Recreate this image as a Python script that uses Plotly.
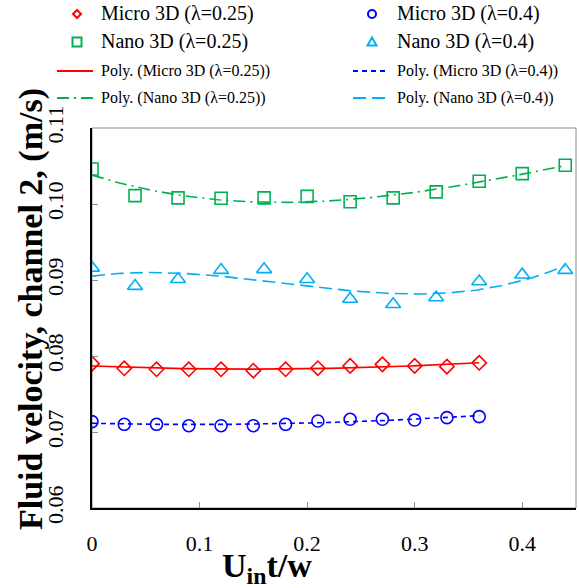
import numpy as np
import plotly.graph_objects as go

# ---- data ----
x_micro = [0, 0.03, 0.06, 0.09, 0.12, 0.15, 0.18, 0.21, 0.24, 0.27, 0.30, 0.33, 0.36]
micro_025 = [0.0790, 0.07838, 0.07825, 0.07825, 0.07825, 0.07807, 0.07825,
             0.0784, 0.0787, 0.0789, 0.0787, 0.0786, 0.0791]
micro_04 = [0.07136, 0.07101, 0.07101, 0.07083, 0.07083, 0.07083, 0.07101,
            0.07145, 0.07167, 0.07167, 0.07158, 0.07189, 0.07202]

x_nano = [0, 0.04, 0.08, 0.12, 0.16, 0.20, 0.24, 0.28, 0.32, 0.36, 0.40, 0.44]
nano_025 = [0.1046, 0.1011, 0.1008, 0.10075, 0.1008, 0.1010, 0.1003, 0.1008,
            0.1016, 0.1030, 0.1040, 0.1051]
nano_04 = [0.0916, 0.0892, 0.0901, 0.0913, 0.0914, 0.0901, 0.0875, 0.0868,
           0.0877, 0.0898, 0.0907, 0.0913]

names = ["Micro 3D (\u03bb=0.25)", "Nano 3D (\u03bb=0.25)",
         "Micro 3D (\u03bb=0.4)", "Nano 3D (\u03bb=0.4)"]
poly_names = ["Poly. (" + n + ")" for n in names]

x_ticks = [0, 0.1, 0.2, 0.3, 0.4]
x_ticktext = ["0", "0.1", "0.2", "0.3", "0.4"]
y_ticks = [0.06, 0.07, 0.08, 0.09, 0.10, 0.11]
y_ticktext = ["0.06", "0.07", "0.08", "0.09", "0.10", "0.11"]

RED, GREEN, BLUE, LBLUE = "#FF0000", "#00B050", "#0000FF", "#00B0F0"

# ---- geometry ----
W, H = 579, 588
L, R, T, B = 92, 3, 128, 80
PW, PH = W - L - R, H - T - B


def px(x):
    return (x - L) / PW


def py(y):
    return (H - B - y) / PH


FONT = "Liberation Serif"

fig = go.Figure()


def add_trend(xs, ys, deg, color, dash):
    c = np.polyfit(xs, ys, deg)
    xf = np.linspace(min(xs), max(xs), 200)
    fig.add_trace(go.Scatter(x=xf, y=np.polyval(c, xf), mode="lines",
                             line=dict(color=color, width=1.6, dash=dash),
                             showlegend=False, hoverinfo="skip"))


add_trend(x_micro, micro_025, 2, RED, "solid")
add_trend(x_micro, micro_04, 2, BLUE, "5px,4px")
add_trend(x_nano, nano_025, 3, GREEN, "12px,5px,2px,5px")
add_trend(x_nano, nano_04, 3, LBLUE, "13px,6px")

fig.add_trace(go.Scatter(x=x_micro, y=micro_025, mode="markers", showlegend=False,
                         marker=dict(symbol="diamond-open", size=11, color=RED,
                                     line=dict(width=1.6, color=RED))))
fig.add_trace(go.Scatter(x=x_nano, y=nano_025, mode="markers", showlegend=False,
                         marker=dict(symbol="square-open", size=12, color=GREEN,
                                     line=dict(width=1.6, color=GREEN))))
fig.add_trace(go.Scatter(x=x_micro, y=micro_04, mode="markers", showlegend=False,
                         marker=dict(symbol="circle-open", size=12, color=BLUE,
                                     line=dict(width=1.6, color=BLUE))))
fig.add_trace(go.Scatter(x=x_nano, y=nano_04, mode="markers", showlegend=False,
                         marker=dict(symbol="triangle-up-open", size=13, color=LBLUE,
                                     line=dict(width=1.6, color=LBLUE))))

shapes = []
annotations = []

# frame (top/right grey)
shapes.append(dict(type="rect", xref="paper", yref="paper", x0=0, x1=1, y0=0, y1=1,
                   line=dict(color="#8c8c8c", width=1), layer="below"))

# ---- manual legend ----
rows = [14, 42, 71, 98]
cols_marker = [77, 372]
cols_text = [99, 395]
cols_line = [(57, 93), (353, 385)]


def marker_shape(kind, cx, cy, color):
    base = dict(xref="paper", yref="paper", xsizemode="pixel", ysizemode="pixel",
                xanchor=px(cx), yanchor=py(cy), line=dict(color=color, width=2))
    if kind == "diamond":
        base.update(type="path", path="M 0 4 L 4 0 L 0 -4 L -4 0 Z")
    elif kind == "square":
        base.update(type="rect", x0=-4.5, x1=4.5, y0=-4.5, y1=4.5)
    elif kind == "circle":
        base.update(type="circle", x0=-4, x1=4, y0=-4, y1=4)
    else:
        base.update(type="path", path="M -4.5 -3.5 L 4.5 -3.5 L 0 4.5 Z")
    return base


legend_markers = [("diamond", RED), ("square", GREEN), ("circle", BLUE), ("triangle", LBLUE)]
legend_lines = [(RED, "solid"), (GREEN, "12px,5px,2px,5px"), (BLUE, "5px,4px"), (LBLUE, "13px,6px")]

for i in range(4):
    col = i // 2
    r = i % 2
    kind, color = legend_markers[i]
    shapes.append(marker_shape(kind, cols_marker[col], rows[r], color))
    annotations.append(dict(xref="paper", yref="paper", x=px(cols_text[col]), y=py(rows[r]),
                            xanchor="left", yanchor="middle", showarrow=False,
                            text=names[i], font=dict(family=FONT, size=20, color="black")))
    lc, ld = legend_lines[i]
    x0, x1 = cols_line[col]
    shapes.append(dict(type="line", xref="paper", yref="paper", x0=px(x0), x1=px(x1),
                       y0=py(rows[r + 2]), y1=py(rows[r + 2]), line=dict(color=lc, width=2, dash=ld)))
    annotations.append(dict(xref="paper", yref="paper", x=px(cols_text[col]), y=py(rows[r + 2]),
                            xanchor="left", yanchor="middle", showarrow=False,
                            text=poly_names[i], font=dict(family=FONT, size=16, color="black")))

# axis titles
annotations.append(dict(xref="paper", yref="paper", x=px(267), y=py(568), xanchor="center",
                        yanchor="middle", showarrow=False, text="<b>U<sub>in</sub>t/w</b>",
                        font=dict(family=FONT, size=34, color="black")))
annotations.append(dict(xref="paper", yref="paper", x=px(31), y=py(309), xanchor="center",
                        yanchor="middle", showarrow=False, textangle=-90,
                        text="<b>Fluid velocity, channel 2, (m/s)</b>",
                        font=dict(family=FONT, size=34, color="black")))

fig.update_layout(
    width=W, height=H, margin=dict(l=L, r=R, t=T, b=B, pad=0),
    paper_bgcolor="white", plot_bgcolor="white",
    shapes=shapes, annotations=annotations, showlegend=False,
    xaxis=dict(range=[0, 0.45], tickvals=x_ticks, ticktext=x_ticktext,
               showgrid=False, zeroline=False, showline=True, linecolor="black", linewidth=2,
               ticks="inside", ticklen=6, tickcolor="#8c8c8c", tickwidth=1,
               ticklabelstandoff=15,
               tickfont=dict(family=FONT, size=22, color="black")),
    yaxis=dict(range=[0.06, 0.11], tickvals=y_ticks, ticktext=y_ticktext,
               showgrid=False, zeroline=False, showline=True, linecolor="black", linewidth=2,
               ticks="inside", ticklen=6, tickcolor="#8c8c8c", tickwidth=1,
               tickangle=-90, ticklabelstandoff=18,
               tickfont=dict(family=FONT, size=22, color="black")),
)

fig.write_html("out.html")
